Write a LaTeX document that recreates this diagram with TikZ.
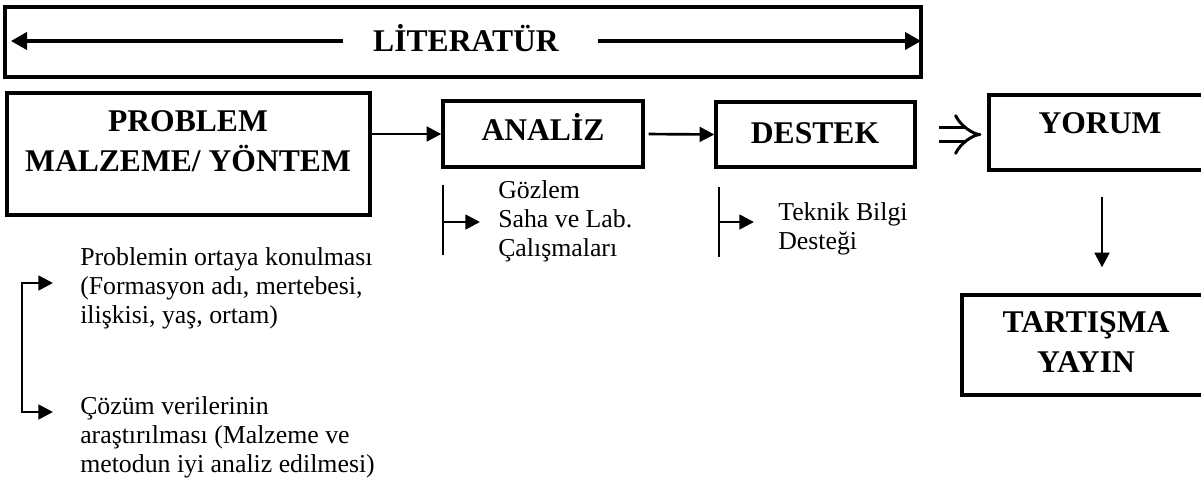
\documentclass[tikz,border=0pt]{standalone}
\usepackage{fontspec}
\setmainfont{Liberation Serif}
\usepackage{tikz}
\usetikzlibrary{arrows.meta, positioning, calc}

\tikzset{
  box/.style={draw, line width=2.5pt, inner sep=0pt},
  bigtxt/.style={inner sep=0pt, align=center, font=\fontsize{23.7pt}{29.6pt}\selectfont\bfseries},
  smalltxt/.style={inner sep=0pt, align=left, font=\fontsize{19.35pt}{21.75pt}\selectfont},
  arr/.style={-{Triangle[length=11pt,width=11pt]}, line width=2pt},
  bigarr/.style={-{Triangle[length=12pt,width=13pt]}, line width=2.3pt},
}

\begin{document}
\begin{tikzpicture}[x=0.75pt, y=-0.75pt]
                \path[use as bounding box, clip] (0,0) rectangle (1201,490);

                % Literature band
                \node[box, minimum width=687pt, minimum height=52.5pt] (lit) at (463,42) {};
                \node[bigtxt, anchor=base] (littxt) at (466,51) {LİTERATÜR};
                \coordinate (litL) at (11,41);
                \coordinate (litR) at (921,41);
                \draw[bigarr] ($(littxt.west |- litL)+(-30,0)$) -- (litL);
                \draw[bigarr] ($(littxt.east |- litR)+(39,0)$) -- (litR);

                % Main boxes
                \node[box, minimum width=272.25pt, minimum height=91.5pt] (prob) at (188.5,154) {};
                \node[box, minimum width=150pt, minimum height=49.5pt] (analiz) at (543,134) {};
                \node[box, minimum width=149.25pt, minimum height=48.75pt] (destek) at (815.5,134.5) {};
                \node[box, minimum width=169.5pt, minimum height=56.25pt] (yorum) at (1102,132.5) {};
                \node[box, minimum width=189.75pt, minimum height=75pt] (tart) at (1088.5,345) {};

                % Box texts
                \node[bigtxt, anchor=base] (probtxt) at (188,171) {PROBLEM\\MALZEME/ YÖNTEM};
                \node[bigtxt, anchor=base] (analiztxt) at (543,140) {ANALİZ};
                \node[bigtxt, anchor=base] (destektxt) at (815,143) {DESTEK};
                \node[bigtxt, anchor=base] (yorumtxt) at (1100,133) {YORUM};
                \node[bigtxt, anchor=base] (tarttxt) at (1086,372) {TARTIŞMA\\YAYIN};

                % Flow arrows
                \draw[arr] (prob.east |- analiz.west) -- (analiz.west);
                \draw[arr, shorten <=3pt] (analiz.east) -- (destek.west);
                \draw[double, double distance=8.5pt, line width=2.2pt, -{Implies}, shorten <=17pt, shorten >=4.5pt]
                  (destek.east) -- (yorum.west |- destek.east);
                \draw[arr, shorten <=19pt, shorten >=19.5pt] (yorum.south) -- (yorum.south |- tart.north);

                % Sub items
                \node[smalltxt, anchor=base west] (gozlem) at (498,256) {Gözlem\\Saha ve Lab.\\Çalışmaları};
                \node[smalltxt, anchor=base west] (teknik) at (778,249) {Teknik Bilgi\\Desteği};
                \node[smalltxt, anchor=base west] (sorun) at (80,323) {Problemin ortaya konulması\\(Formasyon adı, mertebesi,\\ilişkisi, yaş, ortam)};
                \node[smalltxt, anchor=base west] (cozum) at (80,472) {Çözüm verilerinin\\araştırılması (Malzeme ve\\metodun iyi analiz edilmesi)};

                % Side brackets
                \coordinate (gbar) at (443,222);
                \draw[line width=2pt] (443,185) -- (443,255);
                \draw[arr] (gbar) -- ++(37,0);
                \coordinate (tbar) at (719,222);
                \draw[line width=2pt] (719,187) -- (719,257);
                \draw[arr] (tbar) -- ++(35,0);
                \coordinate (s1) at (53,283);
                \coordinate (s2) at (53,412);
                \draw[arr, {Triangle[length=11pt,width=11pt]}-{Triangle[length=11pt,width=11pt]}] (s1) -- (22,283) -- (22,412) -- (s2);
            \end{tikzpicture}
\end{document}
